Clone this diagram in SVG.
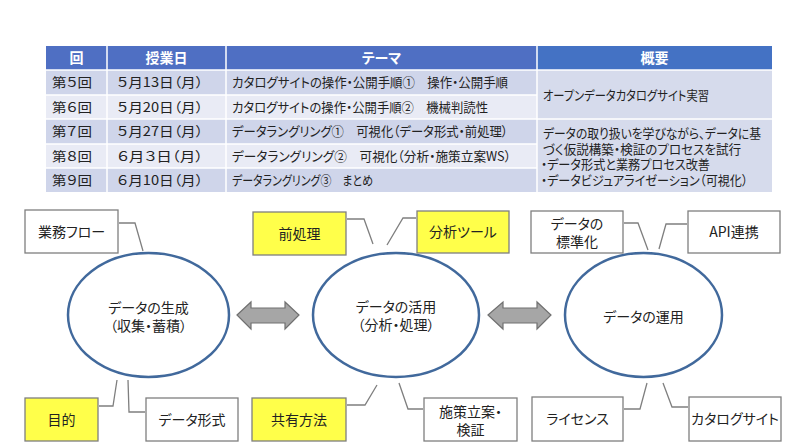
<svg xmlns="http://www.w3.org/2000/svg" width="800" height="447" viewBox="0 0 800 447">
<style>
text{font-family:"Noto Sans CJK JP","Noto Sans",sans-serif;font-feature-settings:"palt";fill:#222}
.th{fill:#fff;font-weight:bold;font-size:14px;text-anchor:middle}
.td{font-size:13px}
.box{stroke:#7f7f7f;stroke-width:1.3}
.w{fill:#fff}
.y{fill:#ffff4a}
.bt{font-size:14px;text-anchor:middle}
.ell{fill:#fff;stroke:#41699c;stroke-width:2.5}
.con{fill:none;stroke:#7f7f7f;stroke-width:1.3}
.arr{fill:#a6a6a6;stroke:#707070;stroke-width:1.2}
.sep{stroke:#fff;stroke-width:1.5}
</style>
<rect width="800" height="447" fill="#fff"/>
<g id="table">
<rect x="46" y="46" width="491" height="24" fill="#4f6fc3"/>
<rect x="537" y="46" width="235" height="24" fill="#4472c4"/>
<rect x="46" y="70" width="491" height="25" fill="#cfd5ea"/>
<rect x="46" y="95" width="491" height="24" fill="#e9ebf5"/>
<rect x="46" y="119" width="491" height="25" fill="#cfd5ea"/>
<rect x="46" y="144" width="491" height="24" fill="#e9ebf5"/>
<rect x="46" y="168" width="491" height="24" fill="#cfd5ea"/>
<rect x="537" y="70" width="235" height="49" fill="#d6dbec"/>
<rect x="537" y="119" width="235" height="73" fill="#d6dbec"/>
<line class="sep" x1="46" y1="70" x2="772" y2="70"/>
<line class="sep" x1="46" y1="95" x2="537" y2="95"/>
<line class="sep" x1="46" y1="119" x2="772" y2="119"/>
<line class="sep" x1="46" y1="144" x2="537" y2="144"/>
<line class="sep" x1="46" y1="168" x2="537" y2="168"/>
<line class="sep" x1="107" y1="46" x2="107" y2="192"/>
<line class="sep" x1="226" y1="46" x2="226" y2="192"/>
<line class="sep" x1="537" y1="46" x2="537" y2="192"/>
<text class="th" x="76.5" y="63">回</text>
<text class="th" x="166.5" y="63">授業日</text>
<text class="th" x="381.5" y="63">テーマ</text>
<text class="th" x="654.5" y="63">概要</text>
<text class="td" x="52" y="87" textLength="40" lengthAdjust="spacingAndGlyphs">第５回</text>
<text class="td" x="52" y="112" textLength="40" lengthAdjust="spacingAndGlyphs">第６回</text>
<text class="td" x="52" y="136" textLength="40" lengthAdjust="spacingAndGlyphs">第７回</text>
<text class="td" x="52" y="161" textLength="40" lengthAdjust="spacingAndGlyphs">第８回</text>
<text class="td" x="52" y="185" textLength="40" lengthAdjust="spacingAndGlyphs">第９回</text>
<text class="td" x="117" y="87" textLength="86" lengthAdjust="spacingAndGlyphs">５月13日（月）</text>
<text class="td" x="117" y="112" textLength="86" lengthAdjust="spacingAndGlyphs">５月20日（月）</text>
<text class="td" x="117" y="136" textLength="86" lengthAdjust="spacingAndGlyphs">５月27日（月）</text>
<text class="td" x="117" y="161" textLength="86" lengthAdjust="spacingAndGlyphs">６月３日（月）</text>
<text class="td" x="117" y="185" textLength="86" lengthAdjust="spacingAndGlyphs">６月10日（月）</text>
<text class="td" x="232" y="87" textLength="276" lengthAdjust="spacingAndGlyphs">カタログサイトの操作・公開手順①　操作・公開手順</text>
<text class="td" x="232" y="112" textLength="256" lengthAdjust="spacingAndGlyphs">カタログサイトの操作・公開手順②　機械判読性</text>
<text class="td" x="232" y="136" textLength="276" lengthAdjust="spacingAndGlyphs">データラングリング①　可視化（データ形式・前処理）</text>
<text class="td" x="232" y="161" textLength="279" lengthAdjust="spacingAndGlyphs">データラングリング②　可視化（分析・施策立案WS）</text>
<text class="td" x="232" y="185" textLength="141" lengthAdjust="spacingAndGlyphs">データラングリング③　まとめ</text>
<text class="td" x="543" y="100" textLength="166" lengthAdjust="spacingAndGlyphs">オープンデータカタログサイト実習</text>
<text class="td"><tspan x="543" y="138" textLength="218" lengthAdjust="spacingAndGlyphs">データの取り扱いを学びながら、データに基</tspan><tspan x="543" y="153.5" textLength="198" lengthAdjust="spacingAndGlyphs">づく仮説構築・検証のプロセスを試行</tspan><tspan x="541" y="169" textLength="169" lengthAdjust="spacingAndGlyphs">・データ形式と業務プロセス改善</tspan><tspan x="541" y="185" textLength="207" lengthAdjust="spacingAndGlyphs">・データビジュアライゼーション（可視化）</tspan></text>
</g>
<g id="connectors">
<polyline class="con" points="119,223 135,223 143,251"/>
<polyline class="con" points="99,406 113,406 117,380"/>
<polyline class="con" points="128,380 129,412 145,412"/>
<polyline class="con" points="347,219 364,219 373,244"/>
<polyline class="con" points="416,218 403,218 387,245"/>
<polyline class="con" points="347,405 365,405 377,385"/>
<polyline class="con" points="399,383 408,409 423,409"/>
<polyline class="con" points="624,223 638,223 648,250"/>
<polyline class="con" points="687,224 666,224 659,249"/>
<polyline class="con" points="624,409 640,409 647,383"/>
<polyline class="con" points="663,383 672,407 688,407"/>
</g>
<g id="arrow1"><polygon class="arr" points="237,315 251,302 251,308 285,308 285,302 299,315 285,329 285,323 251,323 251,329"/></g>
<g id="arrow2"><polygon class="arr" points="488,315 503,302 503,308 537,308 537,302 551,315 537,329 537,323 503,323 503,329"/></g>
<g id="ellipse1"><ellipse class="ell" cx="148.5" cy="315" rx="80.5" ry="62"/>
<text class="bt" x="148.5" y="313">データの生成</text><text class="bt" x="148.5" y="331">（収集・蓄積）</text></g>
<g id="ellipse2"><ellipse class="ell" cx="396" cy="315" rx="83" ry="62"/>
<text class="bt" x="396" y="312">データの活用</text><text class="bt" x="396" y="330">（分析・処理）</text></g>
<g id="ellipse3"><ellipse class="ell" cx="643.5" cy="315" rx="78.5" ry="62"/>
<text class="bt" x="643.5" y="322">データの運用</text></g>
<g id="n-gyomu"><rect class="box w" x="25" y="210" width="93" height="43"/><text class="bt" x="71.5" y="237">業務フロー</text></g>
<g id="n-mokuteki"><rect class="box y" x="25" y="398" width="73" height="43"/><text class="bt" x="61.5" y="425">目的</text></g>
<g id="n-keishiki"><rect class="box w" x="146" y="398" width="92" height="43"/><text class="bt" x="192" y="425">データ形式</text></g>
<g id="n-zenshori"><rect class="box y" x="253" y="212" width="93" height="43"/><text class="bt" x="299.5" y="239">前処理</text></g>
<g id="n-tool"><rect class="box y" x="417" y="211" width="92" height="42"/><text class="bt" x="463" y="237">分析ツール</text></g>
<g id="n-kyoyu"><rect class="box y" x="252" y="398" width="94" height="43"/><text class="bt" x="299" y="425">共有方法</text></g>
<g id="n-shisaku"><rect class="box w" x="424" y="398" width="93" height="43"/><text class="bt" x="470.5" y="417">施策立案・</text><text class="bt" x="470.5" y="435">検証</text></g>
<g id="n-hyojun"><rect class="box w" x="531" y="211" width="92" height="42"/><text class="bt" x="577" y="229">データの</text><text class="bt" x="577" y="247">標準化</text></g>
<g id="n-api"><rect class="box w" x="688" y="211" width="92" height="42"/><text class="bt" x="734" y="237">API連携</text></g>
<g id="n-license"><rect class="box w" x="532" y="397" width="91" height="44"/><text class="bt" x="577.5" y="424">ライセンス</text></g>
<g id="n-catalog"><rect class="box w" x="689" y="397" width="92" height="44"/><text class="bt" x="735" y="424">カタログサイト</text></g>
</svg>
